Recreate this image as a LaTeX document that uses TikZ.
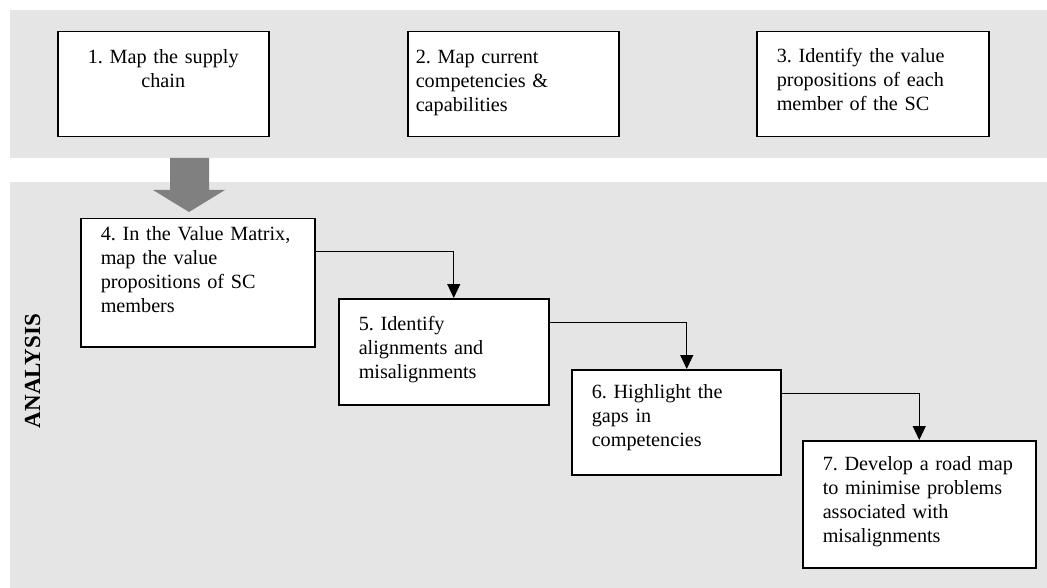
\documentclass[tikz,border=0pt]{standalone}
\usepackage{fontspec}
\setmainfont{Liberation Serif}
\usetikzlibrary{arrows.meta}
\frenchspacing

\begin{document}
\begin{tikzpicture}[x=1pt, y=-1pt]

\def\width{1047}
\def\height{588}

\tikzset{
  band/.style={fill=black!10, draw=none},
  stepbox/.style={draw, fill=white, line width=1.5pt, anchor=north west,
    inner ysep=0pt, inner xsep=20pt, align=left,
    font=\fontsize{20.2}{24}\selectfont},
  flow/.style={line width=1pt, -{Triangle[length=14pt,width=13pt]}},
}

\path [use as bounding box] (0,0) rectangle (\width,\height);

% BANDS
\fill [band] (10,10) rectangle (\width,158);
\fill [band] (10,182) rectangle (\width,\height);

% TOP ROW
\node [stepbox, align=center, inner xsep=8pt, text width=195pt, text height=32pt, text depth=73pt]
  (s1) at (57,31) {1. Map the supply\\chain};
\node [stepbox, inner xsep=8pt, text width=195pt, text height=32pt, text depth=73pt]
  (s2) at (407,31) {2. Map current\\competencies \&\\capabilities};
\node [stepbox, text width=192pt, text height=31pt, text depth=74pt]
  (s3) at (756,31) {3. Identify the value\\propositions of each\\member of the SC};

% BLOCK ARROW
\fill [black!50] (170,158) -- (170,190) -- (153,190) -- (189,212)
  -- (225,190) -- (209,190) -- (209,158) -- cycle;

% ANALYSIS
\node [rotate=90, font=\bfseries\fontsize{23}{23}\selectfont] (analysis) at (32.5,371) {ANALYSIS};

\node [stepbox, text width=194pt, text height=22pt, text depth=106pt]
  (s4) at (80,218) {4. In the Value Matrix,\\map the value\\propositions of SC\\members};
\node [stepbox, text width=170pt, text height=32pt, text depth=74pt]
  (s5) at (338,298) {5. Identify\\alignments and\\misalignments};
\node [stepbox, text width=169pt, text height=29pt, text depth=76pt]
  (s6) at (571,369) {6. Highlight the\\gaps in\\competencies};
\node [stepbox, text width=193pt, text height=30pt, text depth=97pt]
  (s7) at (802,440) {7. Develop a road map\\to minimise problems\\associated with\\misalignments};

% FLOW
\draw [flow] (s4.north east) ++(0,34) -| ([xshift=10pt]s5.north);
\draw [flow] (s5.north east) ++(0,24) -| ([xshift=10.5pt]s6.north);
\draw [flow] (s6.north east) ++(0,24) -| (s7.north);

\end{tikzpicture}
\end{document}
